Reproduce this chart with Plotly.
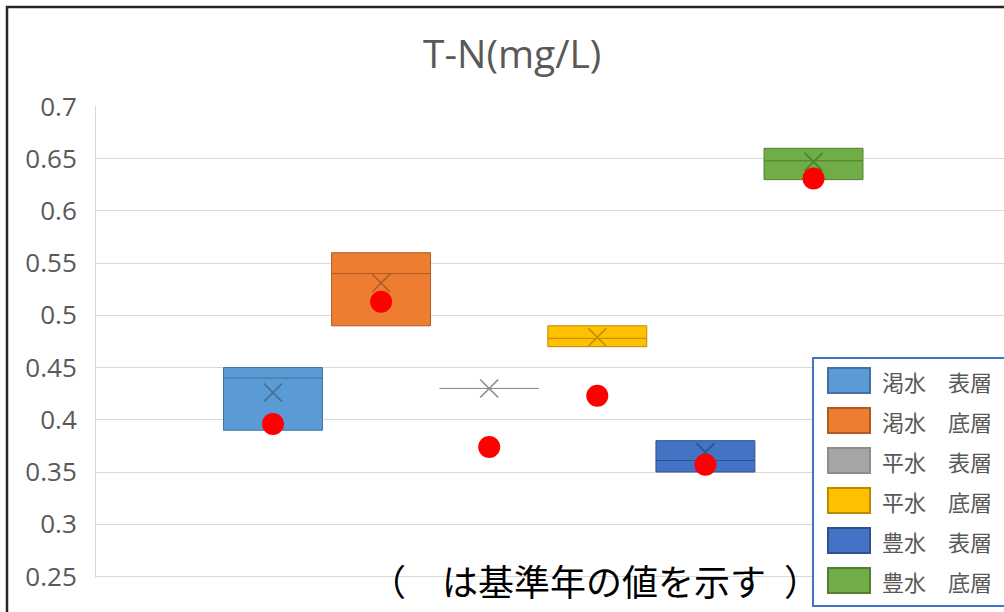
import plotly.graph_objects as go

# Series (one box per flow condition / layer)
categories = ["渇水　表層", "渇水　底層", "平水　表層", "平水　底層", "豊水　表層", "豊水　底層"]
q1_vals = [0.39, 0.49, 0.43, 0.47, 0.35, 0.63]
median_vals = [0.44, 0.54, 0.43, 0.478, 0.361, 0.648]
q3_vals = [0.45, 0.56, 0.43, 0.49, 0.38, 0.66]
mean_vals = [0.426, 0.531, 0.43, 0.479, 0.369, 0.647]
base_year_vals = [0.396, 0.513, 0.374, 0.423, 0.357, 0.631]

y_tickvals = [0.25, 0.3, 0.35, 0.4, 0.45, 0.5, 0.55, 0.6, 0.65, 0.7]
y_ticktext = ["0.25", "0.3", "0.35", "0.4", "0.45", "0.5", "0.55", "0.6", "0.65", "0.7"]

fill_colors = ["#5B9BD5", "#ED7D31", "#A5A5A5", "#FFC000", "#4472C4", "#70AD47"]
edge_colors = ["#41719C", "#AE5A21", "#8C8C8C", "#BC8C00", "#2F528F", "#507E32"]

W, H = 1004, 612
ML, MR, MT, MB = 96, 0, 106, 34
PW, PH = W - ML - MR, H - MT - MB


def px(x):
    return (x - ML) / PW


def py(y):
    return (H - MB - y) / PH


positions = list(range(len(categories)))

fig = go.Figure()

for i, name in enumerate(categories):
    fig.add_trace(go.Box(
        x=[positions[i]],
        q1=[q1_vals[i]], median=[median_vals[i]], q3=[q3_vals[i]],
        lowerfence=[q1_vals[i]], upperfence=[q3_vals[i]],
        name=name,
        fillcolor=fill_colors[i],
        line=dict(color=edge_colors[i], width=1),
        width=0.915,
        whiskerwidth=0,
        boxpoints=False,
        showlegend=False,
        hoverinfo="skip",
    ))

# Mean markers (×)
fig.add_trace(go.Scatter(
    x=positions, y=mean_vals, mode="markers",
    marker=dict(symbol="x-thin", size=18,
                line=dict(width=1.6, color=edge_colors)),
    showlegend=False, hoverinfo="skip",
))

# Base-year values (red dots)
fig.add_trace(go.Scatter(
    x=positions, y=base_year_vals, mode="markers",
    marker=dict(symbol="circle", size=22, color="#FF0000"),
    showlegend=False, hoverinfo="skip",
))

shapes = []
# chart frame
shapes.append(dict(type="rect", xref="paper", yref="paper",
                   x0=px(7), x1=px(1030), y0=py(7), y1=py(640),
                   line=dict(color="#262626", width=2.5), layer="above"))

# legend box
shapes.append(dict(type="rect", xref="paper", yref="paper",
                   x0=px(813), x1=px(1030), y0=py(358), y1=py(606),
                   line=dict(color="#4472C4", width=2), fillcolor="white",
                   layer="above"))

annotations = []
for i, name in enumerate(categories):
    cy = 380.5 + 40 * i
    shapes.append(dict(type="rect", xref="paper", yref="paper",
                       x0=px(828), x1=px(870), y0=py(cy + 12.5), y1=py(cy - 12.5),
                       line=dict(color=edge_colors[i], width=2),
                       fillcolor=fill_colors[i], layer="above"))
    annotations.append(dict(xref="paper", yref="paper", x=px(880), y=py(cy),
                            xanchor="left", yanchor="middle", showarrow=False,
                            text=name,
                            font=dict(family="Noto Sans CJK JP", size=22, color="#595959")))

annotations.append(dict(xref="paper", yref="paper", x=px(512), y=py(53),
                        xanchor="center", yanchor="middle", showarrow=False,
                        text="T-N(mg/L)",
                        font=dict(family="Open Sans", size=39, color="#595959")))

annotations.append(dict(xref="paper", yref="paper", x=px(595), y=py(580),
                        xanchor="center", yanchor="middle", showarrow=False,
                        text="（　は基準年の値を示す\u2002）",
                        font=dict(family="Noto Sans CJK JP", size=36, color="#000000")))

fig.update_layout(
    width=W, height=H,
    margin=dict(l=ML, r=MR, t=MT, b=MB),
    paper_bgcolor="white", plot_bgcolor="white",
    showlegend=False,
    xaxis=dict(range=[-1.637, 6.762], visible=False),
    yaxis=dict(range=[0.2485, 0.7005], tickvals=y_tickvals, ticktext=y_ticktext,
               showgrid=True, gridcolor="#D9D9D9", gridwidth=1,
               showline=True, linecolor="#D9D9D9", linewidth=1,
               zeroline=False, ticks="", ticklabelstandoff=13,
               tickfont=dict(family="Open Sans", size=26, color="#595959")),
    shapes=shapes,
    annotations=annotations,
)

fig.write_html("out.html")
